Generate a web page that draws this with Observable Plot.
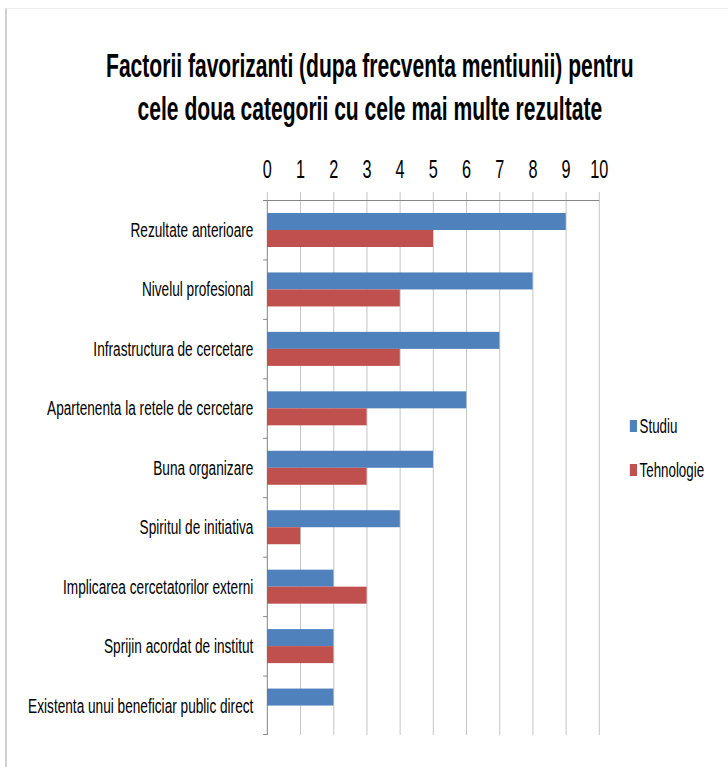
<!DOCTYPE html>
<html><head><meta charset="utf-8">
<script src="https://cdn.jsdelivr.net/npm/d3@7"></script>
<script src="https://cdn.jsdelivr.net/npm/@observablehq/plot@0.6"></script>
<style>
html,body{margin:0;padding:0;background:#fff;}
#page{position:relative;width:728px;height:767px;overflow:hidden;background:#fff;}
#edge{position:absolute;left:5px;top:8px;right:0;bottom:0;border-left:2px solid #d0d0d0;border-top:1px solid #eeeeee;}
#inner{position:absolute;left:0;top:0;width:1120px;height:767px;transform:scaleX(0.65);transform-origin:0 0;font-family:"Liberation Sans",Arial,sans-serif;color:#000;}
#title{position:absolute;left:0;top:45px;width:1138px;text-align:center;font-weight:bold;font-size:32.4px;line-height:43px;}
#chart{position:absolute;left:0;top:0;}
#legend{position:absolute;left:969px;top:0;font-size:20.5px;}
.li{position:absolute;left:0;white-space:nowrap;display:flex;align-items:center;}
.sw{display:inline-block;width:11px;height:12px;margin-right:4px;}
</style></head>
<body>
<div id="page">
  <div id="edge"></div>
  <div id="inner">
    <div id="title">Factorii favorizanti (dupa frecventa mentiunii) pentru<br>cele doua categorii cu cele mai multe rezultate</div>
    <div id="chart"></div>
    <div id="legend"></div>
  </div>
</div>
<script>
const categories = [
  "Rezultate anterioare",
  "Nivelul profesional",
  "Infrastructura de cercetare",
  "Apartenenta la retele de cercetare",
  "Buna organizare",
  "Spiritul de initiativa",
  "Implicarea cercetatorilor externi",
  "Sprijin acordat de institut",
  "Existenta unui beneficiar public direct"
];
const seriesNames = ["Studiu", "Tehnologie"];
const studiu = [9, 8, 7, 6, 5, 4, 2, 2, 2];
const tehnologie = [5, 4, 4, 3, 3, 1, 3, 2, 0];
const xTicks = [0, 1, 2, 3, 4, 5, 6, 7, 8, 9, 10];
const colors = ["#4F81BD", "#C0504D"];

const rows = categories.flatMap((c, i) => [
  {cat: c, series: seriesNames[0], value: studiu[i]},
  {cat: c, series: seriesNames[1], value: tehnologie[i]}
]);

const W = 1120, H = 767;
const mT = 200, mB = 32, mL = 410.8, mR = 198.5;
const bw = (H - mT - mB) / categories.length;
const axisGray = "#868686";
const gridGray = "#b8b8b8";

const chart = Plot.plot({
  width: W,
  height: H,
  marginTop: mT,
  marginBottom: mB,
  marginLeft: mL,
  marginRight: mR,
  style: {fontFamily: '"Liberation Sans", Arial, sans-serif', color: "#000", background: "transparent", overflow: "visible"},
  x: {domain: [0, 10]},
  y: {domain: categories, padding: 0, round: false},
  marks: [
    Plot.gridX(xTicks, {stroke: gridGray, strokeOpacity: 1}),
    Plot.axisX(xTicks, {anchor: "top", tickSize: 9, tickPadding: 14, fontSize: 25, stroke: gridGray, strokeOpacity: 1, label: null, tickFormat: d => String(d)}),
    Plot.ruleX([0], {stroke: axisGray}),
    // top axis line
    Plot.barX([categories[0]], {y: d => d, x1: 0, x2: 10, insetLeft: -6, insetBottom: bw - 1, fill: axisGray}),
    // category boundary ticks
    Plot.barX(categories, {y: d => d, x1: 0, x2: 0, insetLeft: -6, insetBottom: bw - 1, fill: axisGray}),
    Plot.barX([categories[categories.length - 1]], {y: d => d, x1: 0, x2: 0, insetLeft: -6, insetTop: bw - 1, fill: axisGray}),
    Plot.barX(rows.filter(d => d.series === seriesNames[0]), {y: "cat", x: "value", fill: colors[0], insetTop: 13, insetBottom: bw - 30}),
    Plot.barX(rows.filter(d => d.series === seriesNames[1]), {y: "cat", x: "value", fill: colors[1], insetTop: 30, insetBottom: bw - 47}),
    Plot.axisY({tickSize: 0, tickPadding: 21.5, fontSize: 21, label: null})
  ]
});
document.getElementById("chart").appendChild(chart);

const legend = document.getElementById("legend");
const legendTops = [414, 458];
seriesNames.forEach((s, i) => {
  const el = document.createElement("div");
  el.className = "li";
  el.style.top = legendTops[i] + "px";
  el.innerHTML = `<span class="sw" style="background:${colors[i]}"></span><span>${s}</span>`;
  legend.appendChild(el);
});
</script>
</body></html>
